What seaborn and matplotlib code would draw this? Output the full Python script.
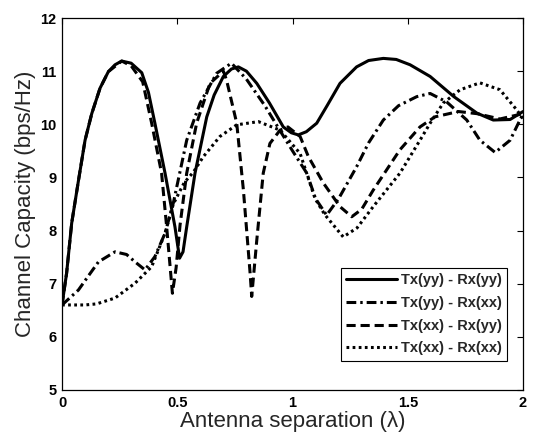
import matplotlib
matplotlib.use("Agg")
import matplotlib.pyplot as plt
import seaborn as sns
import pandas as pd

# Tx(yy) - Rx(yy)  (solid)
x_yy_yy = [0.0, 0.02, 0.042, 0.071, 0.10, 0.129, 0.165, 0.201, 0.23, 0.259, 0.30, 0.346, 0.375, 0.403,
           0.447, 0.49, 0.51, 0.525, 0.541, 0.577, 0.628, 0.66, 0.70, 0.735, 0.765, 0.80, 0.845, 0.90,
           0.96, 0.995, 1.025, 1.06, 1.105, 1.15, 1.206, 1.278, 1.33, 1.394, 1.45, 1.51, 1.597, 1.70,
           1.80, 1.871, 1.944, 2.0]
y_yy_yy = [6.6, 7.2, 8.14, 8.93, 9.7, 10.2, 10.68, 10.99, 11.12, 11.19, 11.15, 10.97, 10.6, 10.02,
           9.08, 8.07, 7.48, 7.6, 8.07, 9.08, 10.14, 10.55, 10.9, 11.04, 11.08, 11.0, 10.77, 10.4,
           9.95, 9.84, 9.8, 9.86, 10.02, 10.35, 10.77, 11.08, 11.2, 11.24, 11.22, 11.12, 10.9, 10.52,
           10.21, 10.08, 10.09, 10.24]

# Tx(yy) - Rx(xx)  (dash-dot)
x_yy_xx = [0.0, 0.071, 0.12, 0.158, 0.23, 0.28, 0.317, 0.36, 0.403, 0.447, 0.483, 0.541, 0.599, 0.671,
           0.735, 0.80, 0.88, 0.953, 1.0, 1.062, 1.10, 1.148, 1.20, 1.278, 1.33, 1.394, 1.46, 1.539,
           1.597, 1.669, 1.756, 1.813, 1.879, 1.944, 2.0]
y_yy_xx = [6.6, 6.88, 7.18, 7.41, 7.6, 7.55, 7.41, 7.26, 7.51, 7.95, 8.52, 9.7, 10.4, 10.96,
           11.15, 10.85, 10.35, 9.83, 9.5, 9.08, 8.6, 8.29, 8.6, 9.2, 9.65, 10.08, 10.35, 10.52,
           10.58, 10.42, 10.08, 9.7, 9.47, 9.7, 10.2]

# Tx(xx) - Rx(yy)  (dashed)
x_xx_yy = [0.0, 0.02, 0.042, 0.071, 0.10, 0.129, 0.165, 0.201, 0.259, 0.30, 0.35, 0.389, 0.432, 0.454,
           0.479, 0.495, 0.512, 0.541, 0.584, 0.642, 0.70, 0.714, 0.758, 0.787, 0.816, 0.823, 0.845,
           0.873, 0.902, 0.946, 0.98, 1.033, 1.069, 1.133, 1.206, 1.257, 1.30, 1.35, 1.466, 1.553,
           1.618, 1.72, 1.80, 1.90, 2.0]
y_xx_yy = [6.6, 7.2, 8.14, 8.93, 9.7, 10.2, 10.68, 10.99, 11.19, 11.1, 10.8, 10.02, 9.08, 8.07,
           6.82, 7.3, 8.1, 9.08, 10.02, 10.77, 11.0, 10.83, 10.02, 8.76, 7.2, 6.76, 7.82,
           9.08, 9.64, 9.89, 9.95, 9.77, 9.39, 8.9, 8.45, 8.26, 8.4, 8.76, 9.52, 9.95,
           10.14, 10.24, 10.2, 10.1, 10.2]

# Tx(xx) - Rx(xx)  (dotted)
x_xx_xx = [0.0, 0.1, 0.15, 0.23, 0.317, 0.389, 0.447, 0.483, 0.53, 0.57, 0.613, 0.685, 0.758, 0.852,
           0.946, 1.033, 1.098, 1.14, 1.22, 1.28, 1.35, 1.466, 1.553, 1.597, 1.654, 1.727, 1.813,
           1.90, 1.973, 2.0]
y_xx_xx = [6.6, 6.6, 6.62, 6.73, 7.01, 7.32, 7.95, 8.5, 8.9, 9.1, 9.39, 9.77, 9.99, 10.05,
           9.89, 9.45, 8.6, 8.3, 7.88, 8.05, 8.45, 9.08, 9.7, 10.02, 10.4, 10.65, 10.78,
           10.65, 10.27, 10.1]

labels = ["Tx(yy) - Rx(yy)", "Tx(yy) - Rx(xx)", "Tx(xx) - Rx(yy)", "Tx(xx) - Rx(xx)"]
x_ticks = [0, 0.5, 1, 1.5, 2]
x_tick_labels = ["0", "0.5", "1", "1.5", "2"]
y_ticks = [5, 6, 7, 8, 9, 10, 11, 12]

sns.set_style("white")
plt.rcParams["font.family"] = ["Liberation Sans", "DejaVu Sans"]

fig = plt.figure(figsize=(5.35, 4.37), dpi=100)
ax = fig.add_axes([0.1159, 0.1076, 0.8617, 0.8512])

series = [(x_yy_yy, y_yy_yy), (x_yy_xx, y_yy_xx), (x_xx_yy, y_xx_yy), (x_xx_xx, y_xx_xx)]
dash_styles = [None, (3.2, 1.3, 0.8, 1.3), (3.0, 1.6), (0.9, 1.1)]

for (xs, ys), lab, ds in zip(series, labels, dash_styles):
    df = pd.DataFrame({"x": xs, "y": ys})
    sns.lineplot(data=df, x="x", y="y", ax=ax, color="black", linewidth=2.2,
                 label=lab, sort=False, estimator=None)
    if ds is not None:
        ax.lines[-1].set_dashes(ds)

ax.set_xlim(0, 2)
ax.set_ylim(5, 12)
ax.set_xticks(x_ticks)
ax.set_xticklabels(x_tick_labels)
ax.set_yticks(y_ticks)
for lbl in ax.get_xticklabels() + ax.get_yticklabels():
    lbl.set_fontweight("bold")
    lbl.set_fontsize(10.5)
ax.tick_params(direction="in", length=4, width=0.8, top=True, right=True, colors="black", pad=4)
for sp in ax.spines.values():
    sp.set_visible(True)
    sp.set_color("black")
    sp.set_linewidth(0.9)

ax.set_xlabel("Antenna separation (\u03bb)", fontsize=16, labelpad=1)
ax.set_ylabel("Channel Capacity (bps/Hz)", fontsize=16, labelpad=3)

leg = ax.legend(loc="lower right", bbox_to_anchor=(0.966, 0.079), frameon=True, fancybox=False,
                edgecolor="black", framealpha=1, handlelength=3.5, borderpad=0.35,
                borderaxespad=0.0, labelspacing=0.6, handletextpad=0.3,
                prop={"weight": "bold", "size": 10.5})
leg.get_frame().set_linewidth(0.8)

fig.savefig("out.png", dpi=100)
